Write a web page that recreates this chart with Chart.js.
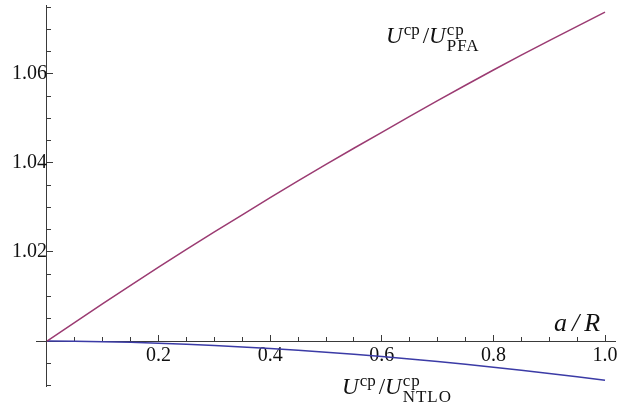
<!DOCTYPE html>
<html>
<head>
<meta charset="utf-8">
<script src="https://cdn.jsdelivr.net/npm/chart.js@4"></script>
<style>
  html,body{margin:0;padding:0;background:#fff;}
  #wrap{position:relative;width:618px;height:406px;}
  .lab{position:absolute;font-family:'Liberation Serif',serif;font-size:23px;line-height:23px;white-space:nowrap;color:#111;}
  .lab i{font-style:italic;}
  .sp{font-size:17px;vertical-align:8px;line-height:10px;margin:0 3px 0 1px;}
  .st{display:inline-block;font-size:17px;line-height:16px;vertical-align:-8px;margin-left:1px;letter-spacing:1px;}
  .st span{display:block;}
  #axlab{font-size:26px;line-height:26px;font-style:italic;letter-spacing:5px;}
</style>
</head>
<body>
<div id="wrap">
  <canvas id="plot" width="618" height="406"></canvas>
  <div class="lab" id="lab1" style="left:386px;top:22px"><i>U</i><span class="sp">cp</span>/<i>U</i><span class="st"><span>cp</span><span>PFA</span></span></div>
  <div class="lab" id="lab2" style="left:342px;top:373px"><i>U</i><span class="sp">cp</span>/<i>U</i><span class="st"><span>cp</span><span>NTLO</span></span></div>
  <div class="lab" id="axlab" style="left:554px;top:310px">a/R</div>
</div>
<script>
/* ---------- data ---------- */
const aR        = [0, 0.1, 0.2, 0.3, 0.4, 0.5, 0.6, 0.7, 0.8, 0.9, 1.0];
const ratioPFA  = [1.0000, 1.0084, 1.0166, 1.0245, 1.0322, 1.0397, 1.0469, 1.0540, 1.0609, 1.0675, 1.0739];
const ratioNTLO = [1.0000, 0.99986, 0.9995, 0.9990, 0.9983, 0.9975, 0.9965, 0.9954, 0.9941, 0.9927, 0.9912];

/* ---------- axes ---------- */
const xMin = -0.0197, xMax = 1.0179;
const yMin = 0.98989, yMax = 1.0755;
const xMajorStep = 0.2, xMinorStep = 0.05;
const yMajorStep = 0.02, yMinorStep = 0.005;

const pts = ys => aR.map((x,i) => ({x, y: ys[i]}));
const noSize = s => { if(s.isHorizontal()) s.height = 0; else s.width = 0;
  s.paddingLeft = s.paddingRight = s.paddingTop = s.paddingBottom = 0; };
const axisCol = '#3a3a3a';
const tickFont = {family:"'Liberation Serif', serif", size:20};

new Chart(document.getElementById('plot'), {
  type: 'line',
  data: {
    datasets: [
      {label:'PFA',  data: pts(ratioPFA),  borderColor:'#9b3b72', borderWidth:1.5, pointRadius:0, tension:0.3, fill:false},
      {label:'NTLO', data: pts(ratioNTLO), borderColor:'#3b3ba6', borderWidth:1.5, pointRadius:0, tension:0.3, fill:false}
    ]
  },
  options: {
    responsive: false,
    animation: false,
    layout: {autoPadding: false, padding: {left: 36, right: 3, top: 5, bottom: 20}},
    plugins: {legend: {display: false}, tooltip: {enabled: false}},
    scales: {
      x: {
        type: 'linear', min: xMin, max: xMax,
        position: {y: 1},
        afterFit: noSize,
        border: {display: true, color: axisCol, width: 1},
        grid: {display: true, drawOnChartArea: false, drawTicks: true, tickLength: -7, tickColor: axisCol},
        ticks: {stepSize: xMajorStep, includeBounds: false, autoSkip: false, maxRotation: 0, padding: 10,
          color: '#111', font: tickFont,
          callback: v => Math.abs(v) < 1e-9 ? '' : v.toFixed(1)}
      },
      y: {
        type: 'linear', min: yMin, max: yMax,
        position: {x: 0},
        afterFit: noSize,
        border: {display: true, color: axisCol, width: 1},
        grid: {display: true, drawOnChartArea: false, drawTicks: true, tickLength: -7, tickColor: axisCol},
        ticks: {stepSize: yMajorStep, includeBounds: false, autoSkip: false, padding: 12,
          color: '#111', font: tickFont,
          callback: v => Math.abs(v - 1) < 1e-9 ? '' : v.toFixed(2)}
      },
      x2: {
        type: 'linear', axis: 'x', min: xMin, max: xMax,
        position: {y: 1},
        afterFit: noSize,
        border: {display: false},
        grid: {display: true, drawOnChartArea: false, drawTicks: true, tickLength: -4, tickColor: axisCol},
        ticks: {stepSize: xMinorStep, includeBounds: false, autoSkip: false, display: false}
      },
      y2: {
        type: 'linear', axis: 'y', min: yMin, max: yMax,
        position: {x: 0},
        afterFit: noSize,
        border: {display: false},
        grid: {display: true, drawOnChartArea: false, drawTicks: true, tickLength: -4, tickColor: axisCol},
        ticks: {stepSize: yMinorStep, includeBounds: false, autoSkip: false, display: false}
      }
    }
  }
});
</script>
</body>
</html>
